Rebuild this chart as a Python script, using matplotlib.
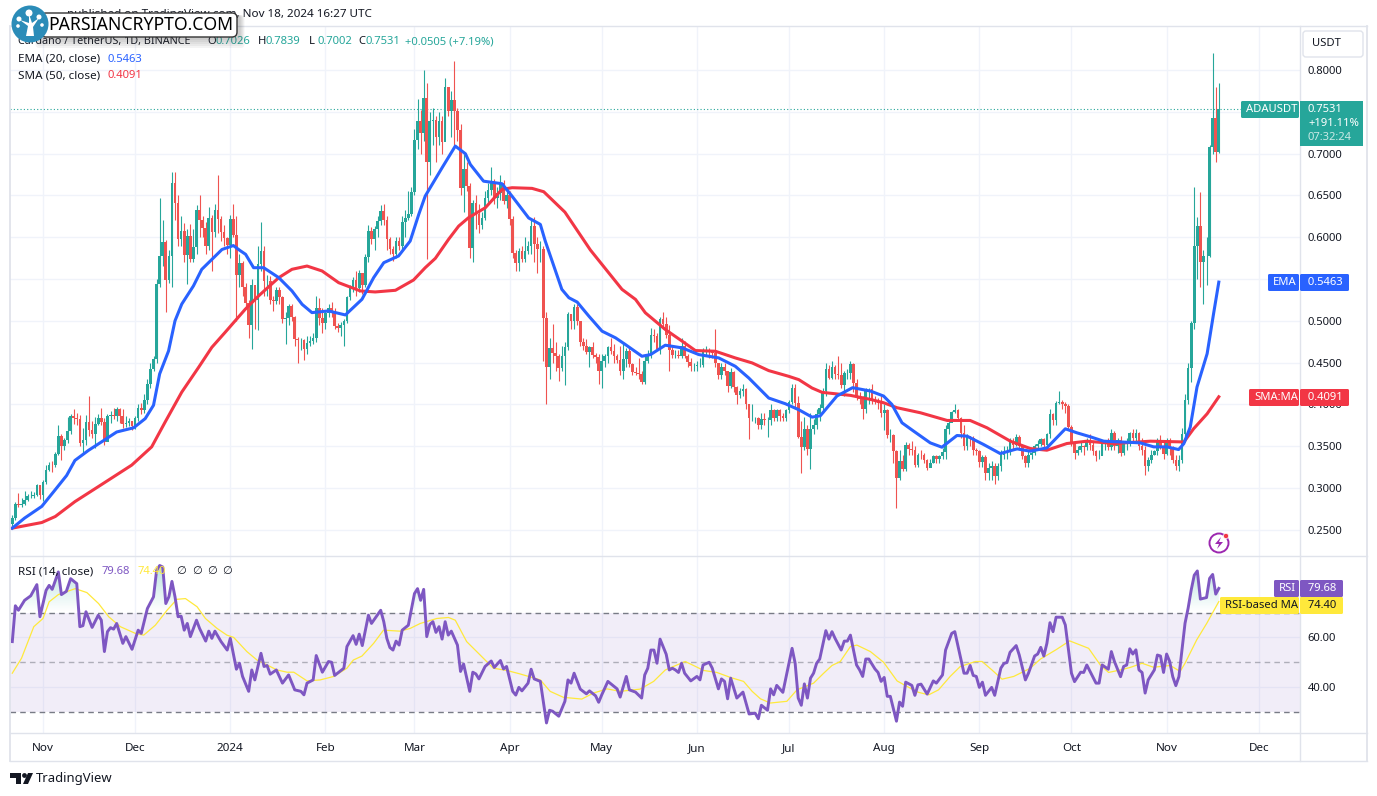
import matplotlib
matplotlib.use("Agg")
import matplotlib.pyplot as plt
import numpy as np
from matplotlib.patches import Circle, FancyBboxPatch, Polygon, Rectangle
from matplotlib.path import Path

plt.rcParams['font.family'] = ['Noto Sans', 'DejaVu Sans']

W, H = 1377, 796

# Daily candles, first one is Oct 22 2023, ten values per row
first_open = 0.257
closes = [
    .264, .2805, .2795, .281, .286, .290, .290, .292, .303, .292,
    .307, .322, .328, .327, .341, .362, .350, .357, .368, .386,
    .384, .383, .354, .357, .379, .369, .365, .377, .384, .379,
    .355, .386, .387, .386, .394, .386, .376, .378, .380, .374,
    .384, .396, .393, .405, .425, .442, .454, .544, .578, .594,
    .549, .577, .665, .641, .598, .607, .579, .601, .574, .588,
    .633, .620, .611, .589, .623, .606, .632, .622, .606, .599,
    .591, .622, .603, .555, .569, .540, .5217, .495, .5424, .525,
    .5675, .583, .5476, .548, .525, .5235, .5365, .528, .502, .503,
    .5175, .504, .478, .477, .477, .466, .474, .476, .479, .515,
    .5037, .4974, .5098, .5158, .5118, .4938, .4915, .4955, .4995, .5287,
    .5387, .5486, .539, .5577, .5427, .5765, .608, .598, .6095, .6195,
    .631, .620, .598, .5855, .5805, .596, .590, .618, .623, .628,
    .6545, .7165, .7395, .725, .767, .6895, .7395, .740, .7195, .7395,
    .7135, .7795, .7505, .7645, .7505, .7277, .659, .682, .661, .5875,
    .6405, .628, .614, .623, .647, .657, .666, .647, .653, .665,
    .643, .651, .622, .5807, .5687, .584, .5735, .584, .589, .6137,
    .592, .586, .586, .5036, .4444, .4676, .4616, .4576, .4436, .4584,
    .4688, .5076, .4996, .5168, .4996, .4748, .4704, .4624, .4688, .4596,
    .4564, .4404, .4516, .4584, .4684, .4636, .4576, .4528, .4404, .4544,
    .4644, .4488, .4384, .438, .4364, .4272, .4524, .4596, .4828, .4816,
    .4664, .5024, .4956, .4836, .4656, .4596, .4596, .4576, .4696, .4584,
    .4504, .4456, .4456, .4472, .4472, .4636, .4644, .4632, .462, .4496,
    .4356, .4448, .4404, .4216, .4384, .4208, .4116, .4156, .4184, .4008,
    .3836, .3836, .3836, .3756, .383, .3808, .3808, .3928, .3836, .3928,
    .3856, .3836, .3928, .4028, .4192, .4016, .3616, .3496, .3704, .3464,
    .3704, .3756, .3888, .3956, .4156, .442, .432, .445, .436, .435,
    .4232, .438, .438, .448, .426, .41, .406, .3948, .418, .418,
    .406, .404, .402, .3892, .3932, .3632, .3632, .344, .312, .332,
    .3232, .352, .3468, .346, .3272, .34, .339, .334, .324, .33,
    .338, .335, .338, .3428, .37, .378, .3912, .3932, .384, .3652,
    .35, .362, .36, .346, .344, .3308, .3372, .318, .324, .326,
    .314, .326, .34, .3428, .343, .3548, .3512, .3612, .35, .338,
    .33, .34, .342, .3508, .353, .3588, .351, .364, .388, .3808,
    .402, .4024, .40, .398, .3732, .354, .342, .346, .35, .349,
    .358, .352, .344, .3388, .3388, .354, .354, .3492, .3652, .35,
    .358, .342, .3532, .3532, .3652, .36, .3652, .3508, .346, .326,
    .334, .34, .344, .3572, .35, .3412, .358, .348, .3332, .326,
    .333, .364, .4056, .444, .4974, .59, .613, .57, .578, .578,
    .7074, .742, .702, .7531,
]
highs = [
    .268, .283, .2944, .288, .296, .293, .297, .295, .305, .304,
    .309, .327, .331, .332, .343, .375, .365, .36, .385, .388,
    .395, .39, .387, .372, .387, .41, .38, .385, .388, .396,
    .384, .389, .392, .396, .397, .396, .394, .386, .384, .38,
    .386, .40, .402, .412, .43, .45, .458, .55, .647, .62,
    .597, .585, .678, .678, .65, .625, .617, .61, .616, .61,
    .638, .65, .625, .618, .636, .626, .64, .675, .625, .615,
    .60, .627, .64, .625, .58, .572, .545, .525, .55, .54,
    .59, .618, .59, .555, .553, .53, .541, .54, .53, .51,
    .52, .52, .506, .481, .48, .478, .482, .482, .485, .53,
    .527, .515, .512, .52, .523, .515, .497, .498, .502, .53,
    .543, .552, .56, .561, .552, .58, .615, .612, .613, .625,
    .638, .64, .625, .60, .59, .60, .60, .625, .633, .655,
    .66, .73, .765, .752, .80, .785, .75, .755, .745, .75,
    .745, .79, .78, .775, .811, .755, .735, .70, .69, .665,
    .645, .65, .64, .63, .655, .665, .684, .67, .66, .675,
    .668, .66, .655, .625, .585, .587, .59, .60, .595, .62,
    .6245, .60, .595, .59, .51, .48, .4956, .475, .46, .47,
    .475, .51, .508, .52, .52, .50, .48, .478, .47, .475,
    .462, .46, .46, .46, .47, .48, .472, .46, .47, .475,
    .468, .47, .45, .445, .455, .44, .46, .465, .4916, .49,
    .485, .505, .5104, .505, .495, .47, .465, .465, .48, .476,
    .46, .455, .45, .452, .455, .468, .47, .468, .465, .49,
    .45, .45, .45, .44, .443, .44, .422, .42, .425, .42,
    .40, .40, .385, .385, .39, .39, .385, .40, .395, .395,
    .395, .39, .395, .405, .425, .425, .41, .38, .385, .375,
    .39, .382, .395, .40, .42, .45, .447, .452, .447, .458,
    .45, .44, .442, .452, .45, .43, .415, .41, .42, .42,
    .425, .41, .408, .41, .40, .395, .37, .365, .345, .345,
    .34, .355, .354, .356, .35, .342, .345, .342, .335, .335,
    .34, .34, .34, .348, .375, .382, .392, .40, .395, .385,
    .375, .365, .362, .362, .348, .345, .34, .34, .33, .332,
    .33, .33, .345, .35, .35, .36, .36, .364, .363, .352,
    .34, .345, .345, .353, .358, .36, .36, .366, .395, .39,
    .404, .416, .405, .403, .40, .375, .355, .35, .355, .352,
    .36, .365, .355, .345, .345, .357, .358, .36, .37, .368,
    .36, .362, .356, .36, .367, .37, .37, .367, .36, .35,
    .337, .345, .346, .36, .363, .355, .36, .36, .35, .34,
    .34, .372, .412, .45, .50, .66, .624, .654, .585, .60,
    .71, .82, .78, .7839,
]
lows = [
    .254, .262, .277, .277, .28, .285, .288, .288, .29, .287,
    .285, .305, .32, .319, .325, .339, .333, .346, .354, .365,
    .376, .375, .35, .341, .352, .362, .36, .348, .375, .375,
    .352, .37, .378, .383, .38, .378, .372, .373, .374, .369,
    .37, .38, .388, .39, .40, .42, .44, .45, .54, .565,
    .51, .545, .54, .62, .59, .59, .57, .5437, .57, .57,
    .58, .60, .60, .58, .585, .56, .60, .605, .595, .59,
    .58, .575, .60, .50, .54, .53, .515, .48, .466, .49,
    .4886, .56, .53, .53, .52, .512, .52, .52, .497, .4727,
    .495, .50, .47, .45, .465, .453, .46, .47, .472, .475,
    .495, .485, .49, .505, .505, .49, .487, .482, .47, .497,
    .525, .535, .53, .535, .532, .54, .57, .592, .585, .60,
    .615, .615, .585, .58, .572, .575, .585, .585, .60, .62,
    .625, .65, .705, .70, .715, .5735, .675, .71, .69, .71,
    .70, .73, .745, .72, .71, .715, .65, .63, .655, .575,
    .5707, .61, .605, .61, .62, .64, .65, .64, .635, .645,
    .64, .635, .615, .575, .56, .56, .57, .57, .58, .58,
    .57, .5575, .57, .452, .40, .43, .45, .44, .4276, .44,
    .4236, .465, .49, .49, .495, .47, .465, .46, .445, .455,
    .45, .425, .4192, .445, .45, .46, .45, .45, .435, .43,
    .445, .445, .435, .435, .43, .425, .425, .45, .455, .475,
    .465, .46, .49, .48, .44, .455, .455, .455, .455, .455,
    .445, .44, .44, .44, .445, .445, .458, .455, .455, .445,
    .43, .43, .435, .415, .42, .415, .40, .408, .41, .395,
    .3584, .38, .378, .37, .37, .375, .3616, .375, .38, .38,
    .38, .38, .38, .39, .40, .395, .36, .3176, .345, .34,
    .3224, .365, .37, .38, .39, .41, .43, .43, .43, .43,
    .42, .41, .43, .43, .415, .405, .40, .383, .39, .40,
    .40, .40, .395, .385, .369, .36, .355, .33, .276, .31,
    .32, .32, .34, .34, .325, .325, .335, .33, .322, .325,
    .33, .33, .33, .335, .335, .365, .38, .39, .38, .36,
    .345, .345, .35, .34, .34, .325, .325, .31, .31, .31,
    .3052, .31, .32, .335, .335, .34, .345, .35, .345, .335,
    .325, .325, .335, .34, .345, .35, .348, .345, .36, .375,
    .375, .40, .395, .39, .37, .35, .335, .34, .343, .34,
    .345, .345, .34, .332, .335, .34, .345, .345, .345, .345,
    .342, .338, .34, .345, .35, .355, .355, .345, .34, .315,
    .32, .33, .34, .34, .347, .335, .34, .34, .33, .321,
    .32, .33, .355, .40, .4268, .49, .55, .54, .5206, .5425,
    .5765, .70, .69, .7002,
]

# EMA and SMA read at their bends (day number, price)
ema_days = [0, 4, 8, 9.6, 14, 17.7, 20.4, 24.8, 29, 34, 39.5, 43.3, 46, 48, 50.9, 53, 55.2, 59, 61.7, 65, 68.3, 72,
            74.2, 76, 78.6, 81.9, 86.8, 91.1, 94.4, 97.6, 103, 108.5, 113.9, 117.7, 121, 125.8, 129.6, 132.4, 134.5,
            140, 144.3, 147.6, 149.2, 153.5, 159.5, 162.8, 168.2, 172, 173.6, 179, 181.3, 184, 187.8, 192.1, 196.5,
            199.7, 205.1, 207.9, 212.7, 218.2, 223.6, 230.1, 235.5, 239.9, 246.4, 251.8, 256.2, 260.5, 263.2, 268.6,
            273.7, 279.5, 283.8, 286.5, 289.8, 293.6, 299, 302.8, 307.7, 311, 316.4, 321.8, 327.3, 331.6, 337, 343,
            346.8, 351.2, 355.5, 367.4, 371.8, 376.1, 379.9, 381.6, 383.7, 385.9, 389.2, 391.3, 393]
ema_vals = [.252, .264, .274, .278, .298, .315, .333, .345, .355, .367, .372, .383, .399, .4365, .464, .50, .52, .5417,
            .5615, .5734, .5853, .59, .584, .5795, .5635, .5635, .5516, .5357, .5197, .5098, .5118, .507, .5257, .5516,
            .5695, .5775, .5954, .6273, .6492, .6831, .709, .6998, .687, .667, .664, .649, .623, .6153, .5954, .5376,
            .5276, .5224, .5056, .4876, .4796, .4716, .4576, .4596, .4708, .4676, .4596, .4556, .4456, .4316, .4076,
            .4008, .3936, .3848, .3864, .41, .42, .416, .41, .40, .378, .368, .354, .3488, .3628, .362, .352, .3412,
            .3468, .344, .348, .3708, .366, .3612, .356, .354, .3492, .3492, .346, .353, .3729, .4208, .4607, .5086,
            .5463]
sma_days = [0, 4, 9.6, 14, 20.4, 28, 38.9, 45.4, 49.8, 55.2, 60.7, 65, 69.3, 75.9, 80.2, 86.8, 91.1, 96, 100.9, 106.3,
            113.4, 118.2, 124.8, 130.7, 134.5, 137.8, 142.1, 145.4, 148.6, 154.1, 159.5, 162.8, 169.3, 173.1, 180,
            188.3, 198.6, 203, 206.2, 212.7, 218.2, 222.5, 229, 235.5, 241, 246.4, 252.9, 256.2, 260.5, 263.8, 273,
            279.5, 283.8, 288.2, 295.8, 304.5, 312, 317.5, 325.1, 331.6, 337, 343.5, 350, 358.8, 370.7, 380.5, 381.6,
            384.8, 389.2, 393]
sma_vals = [.252, .2548, .2587, .2659, .2837, .3016, .3274, .3492, .379, .4147, .4444, .4683, .4861, .5139, .5297,
            .5516, .5616, .5655, .5596, .5456, .5357, .5345, .5365, .5488, .5635, .5747, .5974, .6133, .6233, .6353,
            .6572, .6592, .6584, .6544, .63, .5847, .5376, .5256, .5096, .4896, .4756, .4644, .4636, .4556, .4496,
            .4404, .4336, .4296, .4196, .4144, .4108, .406, .402, .396, .39, .3808, .3808, .372, .356, .3472, .3452,
            .3532, .356, .3532, .356, .3552, .3549, .3709, .3888, .4091]

# RSI turning points
rsi_days = [0, 1, 2, 4, 6, 8, 9, 11, 12, 13, 15, 16, 17.6, 19, 21, 22, 23, 24, 26, 28, 29, 30, 31, 32, 33, 34, 36, 37,
            39, 41, 42, 44, 46, 47, 48, 49, 50, 51, 52, 53, 54, 55, 56, 57, 58, 60, 61, 63, 64, 65, 66, 68, 70, 71,
            73, 74, 75, 77, 78, 79, 81, 82, 83, 84, 86, 88, 90, 92, 94, 95, 96, 98, 99, 101, 103, 104, 105,
            108, 109, 111, 112, 113, 114, 116, 117, 120, 121, 122, 123, 124, 125, 126, 127, 129, 131, 132, 133, 134,
            135, 136, 137, 138, 139, 140, 141, 142, 143, 145, 146, 147, 149, 150, 151, 152, 154, 156, 157, 159, 160,
            161, 163, 164, 165, 166, 168, 169, 170, 172, 174, 175, 176, 178, 180, 181, 182, 183, 185, 187, 188, 190,
            191, 192, 194, 197, 198, 200, 201, 203, 205, 206, 207, 208, 209, 210, 211, 213, 214, 215, 216, 217, 218,
            219, 221, 223, 224, 225, 227, 228, 230, 231, 232, 233, 234, 236, 238, 240, 242, 243, 244, 246, 247, 248,
            249, 251, 254, 255, 256, 257, 258, 259, 260, 261, 262, 263, 265, 266, 267, 268, 270, 271, 272, 273, 275,
            276, 277, 278, 279, 281, 282, 283, 284, 285, 286, 288, 289, 290, 291, 293, 294, 295, 296, 298, 300, 301,
            303, 304, 306, 307, 310, 311, 312, 313, 314, 315, 316, 317, 319, 320, 322, 323, 324, 325, 327, 328,
            330, 331, 333, 334, 335, 336, 337, 338, 339, 340, 342, 343, 345, 346, 348, 349, 350, 353, 354, 355, 357,
            358, 359, 361, 362, 363, 364, 365, 366, 367, 368, 369, 370, 372, 373, 374, 375, 376, 377, 378, 379, 380,
            381, 382, 383, 384, 385, 386, 387, 389, 390, 391, 392, 393]
rsi_vals = [58.3, 72.7, 70.9, 74.9, 76.7, 81.2, 68.3, 78.9, 80.9, 79.3, 86.3, 77.2, 78.5, 83.6, 81.6, 64.3, 64.7, 70.3,
            64, 68.9, 66.9, 54.3, 62.3, 63.9, 63.3, 65.6, 57.6, 60.3, 55.2, 62.9, 61.6, 71.6, 76.3, 86.9, 88.9, 88.3,
            73.6, 76.3, 82.5, 76.3, 68.3, 68.5, 62.9, 65.6, 60.3, 66.9, 63.6, 58.5, 62.5, 59.6, 62.5, 58.3, 54.9, 59.6,
            47.2, 49.6, 44.3, 38.3, 46.9, 42.9, 53.6, 48.3, 48.7, 45.2, 46.9, 41.6, 44.9, 38.9, 38.3, 36.9, 41.6, 42.9,
            52.7, 46, 50.3, 50, 44.7,
            47.6, 56.3, 60.7, 57.2, 61.3, 56.7, 68.9, 65.6, 70.9, 66.3, 59.6, 55.9, 54.9, 58.5, 56.9, 62.9, 64.9, 77.6,
            79.6, 74.9, 79.3, 60.3, 65.2, 66.3, 62, 64.3, 59.3, 66.3, 60.9, 62.5, 56.9, 46.3, 49.3, 38.3, 46, 45.3,
            43.3, 48.3, 50.5, 47.9, 50.7, 47.3, 48.3, 38.3, 36.8, 39.9, 38.5, 41.6, 47.2, 43.3, 42.3, 25.6, 30.7, 30.3,
            28.3, 34.3, 42.9, 41.6, 45.6, 39.2, 37.3, 38.5, 36.5, 33.9, 36.9, 42.3, 39.3, 36, 44.3, 38.9, 38, 35.6,
            44.9, 47.6, 54.9, 54.9, 49.6, 59.3, 53.2, 46.9, 47.6, 46.9, 45.9, 49.6,
            45.6, 42.5, 44.3, 42.9, 48.9, 50, 47.6, 39.3, 43.3, 42.3, 35.3, 43.6, 35.6, 38, 29.2, 29.5, 27.3, 32.7,
            30.7, 39.3, 36.9, 40.7, 37.9, 55.6, 49.6, 35.6, 32.7, 41.3, 35.6, 43.6, 45.6, 49.6, 51.3, 62.7, 59.3, 62.3,
            59.6, 54.9, 58.5, 58.5, 60.9, 48.9, 46.9, 44.3, 51.3, 51.3, 47.3, 45.9, 42.3, 43.9, 36.3, 36.3, 26.3, 34,
            32.3, 42, 40.7, 36.7, 40.9, 41.2, 37.2, 42.5, 41.6, 44.9, 54.9, 61.6, 62.3, 45.6, 45.6, 48.7, 44.7, 44.3,
            39.9, 42, 36.7, 39.9, 36.7, 47.6, 49.5, 49.9, 54, 56.7, 52.9,
            42.9, 45.6, 52.5, 53.3, 56, 52.5, 57.6, 65.9, 62.3, 68.1, 68.1, 65, 45.6, 42.2, 46, 45.9, 48.9, 41.6, 41.6,
            48.9, 47.2, 54.3, 50.3, 44.2, 48.3, 48.9, 55.4, 53.3, 55, 46.9, 45.9, 37.6, 42.9, 46.9, 52.9, 52.5, 45.9,
            53.3, 50.3, 44.2, 40.6, 44.2, 55, 65.7, 71.7, 79, 85, 86.7, 75.4, 76, 83.7, 85.3, 77.4, 79.68]
rsi_ma_days = [0, 3, 7, 10, 12, 15, 20.5, 24.3, 28.1, 31.4, 35.2, 40.1, 42.8, 46.6, 50.4, 53.6, 56.4, 60.2, 62.9, 66.7,
               69.9, 72.1, 76.4, 79.7, 83, 86.2, 89.5, 91.7, 96, 100.3, 104.7, 109, 111.1, 113.9, 117.7, 120.9, 126.3,
               129.6, 132.9, 138.3, 142.1, 144.3, 148, 152.4, 156.7, 161.1, 165.4, 172, 175.2, 179.5, 185.5, 189.3,
               193.7, 198, 204.5, 208.9, 212.7, 216.5, 219.2, 221.9, 225.2, 229.5, 233.9, 238.2, 241, 243.7, 246.9,
               252.3, 255.6, 261, 264.3, 267, 269.7, 273, 275.1, 279.5, 283.8, 288.2, 291.4, 295.2, 298.5, 301.7,
               305.5, 308.8, 313.7, 315.9, 319.1, 322.4, 326.2, 331.6, 334.8, 340.2, 344.4, 350.6, 354.4, 357.1,
               360.9, 364.1, 368, 371.7, 377.2, 380.4, 382, 385.8, 389.1, 393]
rsi_ma_vals = [45.6, 51.6, 64.3, 67.6, 74.3, 77.2, 79.6, 78, 73.6, 68.3, 64.3, 61.6, 60.9, 64.9, 70.9, 75.3, 75.6, 72.3,
               67.6, 63.6, 60.9, 60, 54.3, 50.9, 48.9, 46.9, 46, 46, 42.5, 42.9, 44.3, 47.6, 50.9, 52.5, 57.6, 62.9,
               62.5, 63.6, 65.6, 67.6, 68, 66.9, 58.3, 52.9, 47.6, 46.7, 45.3, 42.9, 38.3, 35.9, 35.2, 37.6, 39.3, 38.3,
               39.2, 42.3, 46.9, 48.9, 50.3, 48.7, 46.7, 45.9, 43.9, 42.3, 38.3, 35.3, 33.6, 34.3, 38.9, 41.6, 45.6,
               48.7, 50.3, 56.3, 56.9, 54.3, 50, 42.5, 40.3, 37.9, 36.9, 38.9, 44.3, 48.3, 50.3, 50.3, 46.9, 43.2, 44.3,
               47.6, 51.2, 55.2, 58.6, 55.6, 48.9, 45.9, 46.9, 47.9, 49.6, 48, 48.7, 46.3, 49.6, 59, 65.7, 74.4]

price_ticks = [.25, .30, .35, .40, .45, .50, .55, .60, .65, .70, .75, .80]
rsi_ticks = [40, 60]
month_days = [10, 40, 71, 102, 131, 162, 192, 223, 253, 284, 315, 345, 376, 406]
month_labels = ['Nov', 'Dec', '2024', 'Feb', 'Mar', 'Apr', 'May', 'Jun', 'Jul', 'Aug', 'Sep', 'Oct', 'Nov', 'Dec']

UP = '#26a69a'
DOWN = '#ef5350'
EMA_C = '#2962ff'
SMA_C = '#f23645'
RSI_C = '#7e57c2'
MA_C = '#ffe93b'
GRID = '#f0f3fa'
EDGE = '#e0e3eb'
TEXT = '#131722'
FS = 8.1


def px_axes(fig, left, top, right, bottom):
    return fig.add_axes([left / W, 1 - bottom / H, (right - left) / W, (bottom - top) / H])


def tag(ax, x0, y0, x1, y1, color, text, tcolor='white'):
    ax.add_patch(FancyBboxPatch((x0 + 1.5, y0 + 1.5), x1 - x0 - 3, y1 - y0 - 3, boxstyle='round,pad=1.5',
                                fc=color, ec='none', zorder=3))
    ax.text(x0 + 5, (y0 + y1) / 2, text, color=tcolor, fontsize=FS, va='center', ha='left', zorder=4)


n = len(closes)
days = np.arange(n)
c = np.array(closes)
o = np.array([first_open] + closes[:-1])
hi = np.array(highs)
lo = np.array(lows)
colors = [UP if cl >= op else DOWN for op, cl in zip(o, c)]

fig = plt.figure(figsize=(W / 100, H / 100), dpi=100, facecolor='white')

# x scale: 3.07 px per day, day 0 at x=12.3
x_lim = ((10 - 12.3) / 3.07, (1300 - 12.3) / 3.07)

ax = px_axes(fig, 10, 26, 1300, 556)
ax.vlines(days, lo, hi, colors=colors, linewidth=0.8, zorder=3)
ax.bar(days, np.abs(c - o), bottom=np.minimum(o, c), width=0.86, color=colors, linewidth=0, zorder=4)
ax.plot(sma_days, sma_vals, color=SMA_C, lw=2.2, zorder=5, solid_joinstyle='round')
ax.plot(ema_days, ema_vals, color=EMA_C, lw=2.2, zorder=6, solid_joinstyle='round')
ax.axhline(closes[-1], color=UP, ls=(0, (1, 2)), lw=0.8, zorder=2)
ax.set_xlim(x_lim)
# 836 px per 1.0 of price, 0.8 sits at y=70
ax.set_ylim(.8 - 486 / 836, .8 + 44 / 836)
ax.set_yticks(price_ticks)
ax.set_yticklabels(['%.4f' % p for p in price_ticks])
ax.set_xticks(month_days)
ax.yaxis.tick_right()
ax.tick_params(axis='y', length=0, pad=5.5, labelsize=FS, labelcolor=TEXT)
ax.tick_params(axis='x', length=0, labelbottom=False)
ax.grid(True, color=GRID, lw=1, zorder=0)
ax.set_axisbelow(True)
for s in ax.spines.values():
    s.set_visible(False)

rx = px_axes(fig, 10, 556, 1300, 733)
rx.axhspan(30, 70, color=RSI_C, alpha=0.1, lw=0, zorder=1)
rx.axhline(70, color='#787b86', ls=(0, (4, 3)), lw=1, zorder=2)
rx.axhline(50, color='#787b86', ls=(0, (4, 3)), lw=1, alpha=0.55, zorder=2)
rx.axhline(30, color='#787b86', ls=(0, (4, 3)), lw=1, zorder=2)

# green fade over the overbought parts
fill = rx.fill_between(rsi_days, 70, rsi_vals, where=np.array(rsi_vals) > 70, interpolate=True,
                       color='none', lw=0)
fade = np.zeros((64, 2, 4))
fade[..., 0], fade[..., 1], fade[..., 2] = 0.15, 0.65, 0.6
fade[..., 3] = np.linspace(0.34, 0, 64)[:, None]
im = rx.imshow(fade, extent=(0, 393, 70, 90), aspect='auto', origin='upper', zorder=2)
im.set_clip_path(Path.make_compound_path(*fill.get_paths()), rx.transData)

rx.plot(rsi_ma_days, rsi_ma_vals, color=MA_C, lw=0.9, zorder=3)
rx.plot(rsi_days, rsi_vals, color=RSI_C, lw=2.1, zorder=4)
rx.set_xlim(x_lim)
rx.set_ylim(30 - 21 / 2.4875, 70 + 56.5 / 2.4875)
rx.set_yticks(rsi_ticks)
rx.set_yticklabels(['%.2f' % r for r in rsi_ticks])
rx.yaxis.tick_right()
rx.tick_params(axis='y', length=0, pad=5.5, labelsize=FS, labelcolor=TEXT)
rx.set_xticks(month_days)
rx.set_xticklabels(month_labels)
rx.tick_params(axis='x', length=0, pad=7, labelsize=8.4, labelcolor=TEXT)
rx.get_xticklabels()[2].set_fontweight('bold')
rx.grid(True, color=GRID, lw=1, zorder=0)
rx.set_axisbelow(True)
for s in rx.spines.values():
    s.set_visible(False)

# overlay in pixel coordinates for frame, legend text, price tags and logos
ov = fig.add_axes([0, 0, 1, 1], zorder=10)
ov.set_xlim(0, W)
ov.set_ylim(H, 0)
ov.axis('off')

for x0, y0, x1, y1 in [(10, 26, 1367, 26), (10, 556, 1367, 556), (10, 733, 1367, 733), (10, 761, 1367, 761),
                       (10, 26, 10, 761), (1300, 26, 1300, 761), (1367, 26, 1367, 761)]:
    ov.plot([x0, x1], [y0, y1], color=EDGE, lw=1.3 if x0 == x1 and x0 != 1300 else 1, zorder=1)

# USDT button
ov.add_patch(FancyBboxPatch((1306, 34), 54, 20, boxstyle='round,pad=3', fc='white', ec=EDGE, lw=1))
ov.text(1312, 44, 'USDT', fontsize=FS, color=TEXT, va='center')

# header lines
ov.text(372, 14, 'published on TradingView.com, Nov 18, 2024 16:27 UTC', fontsize=8.4, color=TEXT, ha='right', va='center')
ov.text(18, 41.5, 'Cardano / TetherUS, 1D, BINANCE', fontsize=7.8, color=TEXT, va='center')
for x, lab, val in [(207, 'O', '0.7026'), (258, 'H', '0.7839'), (309, 'L', '0.7002'), (358, 'C', '0.7531')]:
    ov.text(x, 41.5, lab, fontsize=FS, color=TEXT, va='center')
    ov.text(x + 8, 41.5, val, fontsize=FS, color=UP, va='center')
ov.text(405, 41.5, '+0.0505 (+7.19%)', fontsize=FS, color=UP, va='center')
ov.text(18, 59, 'EMA (20, close)', fontsize=8.4, color=TEXT, va='center')
ov.text(107, 59, '0.5463', fontsize=FS, color=EMA_C, va='center')
ov.text(18, 75.5, 'SMA (50, close)', fontsize=8.4, color=TEXT, va='center')
ov.text(107, 75.5, '0.4091', fontsize=FS, color=SMA_C, va='center')
ov.text(18, 571.5, 'RSI (14, close)', fontsize=8.4, color=TEXT, va='center')
ov.text(102, 571.5, '79.68', fontsize=FS, color=RSI_C, va='center')
ov.text(138, 571.5, '74.40', fontsize=FS, color=MA_C, va='center')
for x in [176, 192, 207, 222]:
    ov.text(x, 571.5, '\u2205', fontsize=FS, color=TEXT, va='center', family='DejaVu Sans')

# price tags
tag(ov, 1241, 101, 1299, 118, UP, 'ADAUSDT')
ov.add_patch(Rectangle((1300, 101), 63, 45, fc=UP, ec='none', zorder=3))
ov.text(1308, 110, '0.7531', color='white', fontsize=FS, va='center', zorder=4)
ov.text(1308, 124, '+191.11%', color='white', fontsize=FS, va='center', zorder=4)
ov.text(1308, 138, '07:32:24', color='#c9e9e5', fontsize=FS, va='center', zorder=4)
tag(ov, 1268, 274, 1299, 291, EMA_C, 'EMA')
tag(ov, 1300, 274, 1349, 291, EMA_C, ' 0.5463')
tag(ov, 1249, 389, 1299, 406, SMA_C, 'SMA:MA')
tag(ov, 1300, 389, 1349, 406, SMA_C, ' 0.4091')
tag(ov, 1274, 580, 1299, 597, RSI_C, 'RSI')
tag(ov, 1300, 580, 1343, 597, RSI_C, ' 79.68')
tag(ov, 1220, 597, 1299, 614, MA_C, 'RSI-based MA', tcolor=TEXT)
tag(ov, 1300, 597, 1343, 614, MA_C, ' 74.40', tcolor=TEXT)

# lightning badge
ov.add_patch(Circle((1219, 543), 9.5, fc='white', ec='#9c27b0', lw=1.4))
ov.add_patch(Polygon([(1221, 537), (1215, 544), (1219, 544), (1217, 549), (1223, 542), (1219, 542)], fc='#9c27b0', ec='none'))
ov.add_patch(Circle((1226, 536), 2.6, fc='#f23645', ec='white', lw=0.5))

# watermark, soft shadow built from a few faint layers
for grow in [9, 7, 5, 3, 1]:
    ov.add_patch(FancyBboxPatch((44 - grow / 2, 19), 192 + grow, 16 + grow, boxstyle='round,pad=4',
                                fc='#444444', ec='none', alpha=0.06, zorder=6))
ov.add_patch(FancyBboxPatch((46, 18), 186, 14, boxstyle='round,pad=5', fc='white', ec='#333333', lw=1, zorder=7))
ov.text(48, 25.5, 'PARSIANCRYPTO.COM', fontsize=12.7, color='black', va='center', zorder=8)
ov.add_patch(Circle((30, 24), 18.5, fc='#2b8cb8', ec='none', zorder=9))
ov.add_patch(Polygon([(26, 36), (28, 26), (20, 20), (29, 23), (29, 14), (32, 23), (39, 18), (33, 27), (34, 36)],
                     fc='white', ec='none', zorder=10))
for cx, cy, r in [(29, 13, 3.5), (19, 19, 2.5), (39, 17, 2.5), (18, 26, 1.8), (42, 25, 1.8)]:
    ov.add_patch(Circle((cx, cy), r, fc='white', ec='none', zorder=10))

# TradingView logo
ov.add_patch(Polygon([(10, 773), (21, 773), (21, 784), (16, 784), (16, 778), (10, 778)], fc=TEXT, ec='none'))
ov.add_patch(Circle((24.5, 775.5), 2.4, fc=TEXT, ec='none'))
ov.add_patch(Polygon([(28, 773), (33, 773), (28, 784), (23, 784)], fc=TEXT, ec='none'))
ov.text(36, 778.5, 'TradingView', fontsize=9.4, color=TEXT, va='center', fontweight='medium')

fig.savefig('out.png', dpi=100)
